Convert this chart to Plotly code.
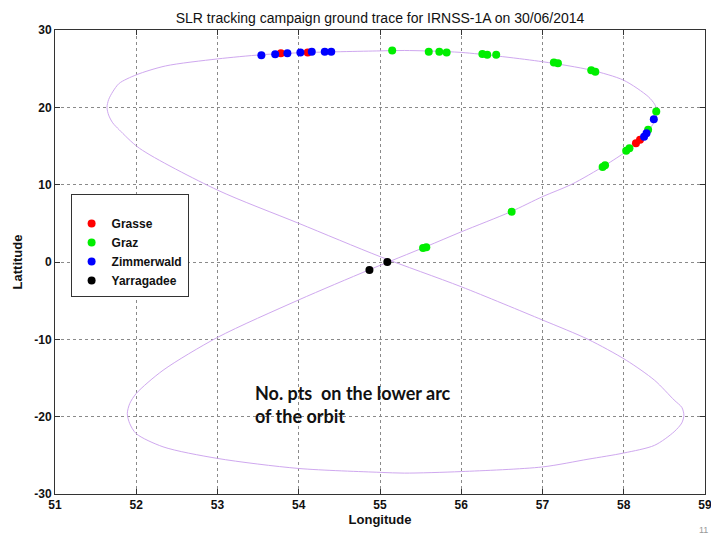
import plotly.graph_objects as go

# Ground trace of the orbit, closed figure-8
trace_lon = [55.57, 56.0, 56.61, 57.0, 57.36, 57.77, 58.03, 58.2, 58.34, 58.39, 58.41, 58.38, 58.3,
             58.0, 57.6, 57.0, 56.0, 55.3, 55.0, 54.0, 53.54, 53.0, 52.36, 52.0, 51.79, 51.71, 51.66,
             51.64, 51.66, 51.71, 51.79, 52.04, 53.0, 54.0, 55.0, 56.0, 57.0, 57.56, 58.03, 58.38,
             58.62, 58.715, 58.74, 58.715, 58.62, 58.38, 58.0, 57.56, 57.0, 56.0, 55.3, 55.0, 54.0,
             53.0, 52.33, 52.0, 51.92, 51.89, 51.92, 52.0, 52.33, 53.0, 54.0, 54.87, 55.57]
trace_lat = [2.0, 3.9, 6.5, 8.45, 10.05, 12.5, 14.3, 15.8, 17.5, 18.5, 19.5, 20.4, 21.4,
             23.5, 24.8, 25.9, 27.1, 27.35, 27.3, 27.05, 26.8, 26.26, 25.35, 24.2, 23.1, 22.0, 21.0,
             20.0, 19.0, 18.0, 17.1, 14.7, 9.3, 5.0, 0.7, -3.2, -7.5, -10.0, -12.7, -15.3,
             -17.85, -18.8, -19.8, -20.8, -21.95, -23.7, -24.7, -25.5, -26.5, -27.1, -27.3, -27.2, -26.7,
             -25.4, -23.9, -22.2, -20.9, -19.6, -18.3, -17.0, -14.0, -9.75, -4.9, -1.0, 2.0]

grasse_lon = [53.78, 54.11, 58.20, 58.15]
grasse_lat = [27.0, 27.08, 15.8, 15.35]

graz_lon = [55.15, 55.60, 55.73, 55.82, 56.26, 56.32, 56.43, 57.14, 57.19, 57.60, 57.65,
            58.40, 58.30, 58.07, 58.03, 57.77, 57.74, 56.62, 55.57, 55.53]
graz_lat = [27.34, 27.2, 27.2, 27.1, 26.9, 26.8, 26.8, 25.8, 25.7, 24.8, 24.6,
            19.45, 17.1, 14.7, 14.4, 12.5, 12.3, 6.5, 1.9, 1.8]

zimm_lon = [53.54, 53.71, 53.86, 54.02, 54.16, 54.32, 54.40, 58.37, 58.28, 58.25]
zimm_lat = [26.74, 26.87, 27.0, 27.08, 27.2, 27.2, 27.2, 18.45, 16.65, 16.2]

yarra_lon = [54.87, 55.09]
yarra_lat = [-1.03, 0.0]

x_ticks = [51, 52, 53, 54, 55, 56, 57, 58, 59]
y_ticks = [-30, -20, -10, 0, 10, 20, 30]

fig = go.Figure()
fig.add_trace(go.Scatter(x=trace_lon, y=trace_lat, mode="lines", line_shape="spline",
                         line=dict(color="#cfa8ef", width=1, smoothing=0.8),
                         showlegend=False, hoverinfo="skip"))
for name, lx, ly, col in [("Grasse", grasse_lon, grasse_lat, "#ff0000"),
                          ("Graz", graz_lon, graz_lat, "#00ee00"),
                          ("Zimmerwald", zimm_lon, zimm_lat, "#0000ff"),
                          ("Yarragadee", yarra_lon, yarra_lat, "#000000")]:
    fig.add_trace(go.Scatter(x=lx, y=ly, mode="markers", name=name,
                             marker=dict(color=col, size=8, line=dict(width=0))))

axis_common = dict(showline=True, linecolor="#333333", linewidth=1, mirror="ticks",
                   ticks="inside", ticklen=5, tickcolor="#333333", automargin=False,
                   ticklabeloverflow="allow",
                   showgrid=True, gridcolor="#8a8a8a", gridwidth=1, griddash="dot",
                   zeroline=False, tickfont=dict(family="Liberation Sans", size=12, color="#111111", weight="bold"))

fig.update_xaxes(range=[51, 59], tickvals=x_ticks, ticktext=[str(v) for v in x_ticks],
                 title=dict(text="Longitude", font=dict(family="Liberation Sans", size=13, color="#111111", weight="bold"),
                            standoff=3), **axis_common)
fig.update_yaxes(range=[-30, 30], tickvals=y_ticks, ticktext=[str(v) for v in y_ticks],
                 title=dict(text="Lattitude", font=dict(family="Liberation Sans", size=13, color="#111111", weight="bold"),
                            standoff=8), **axis_common)

fig.add_annotation(x=53.44, y=-18.4, xref="x", yref="y", xanchor="left", yanchor="middle",
                   text="No. pts  on the lower arc<br>of the orbit", showarrow=False, align="left",
                   font=dict(family="Lato", size=18, color="#111111", weight="bold"))
fig.add_annotation(x=0.997, y=-0.078, xref="paper", yref="paper", xanchor="center", yanchor="middle",
                   text="11", showarrow=False, font=dict(family="Liberation Sans", size=9, color="#999999"))

fig.update_layout(
    width=703, height=532,
    margin=dict(l=47, r=6, t=22, b=46),
    paper_bgcolor="white", plot_bgcolor="white",
    title=dict(text="SLR tracking campaign ground trace for IRNSS-1A on 30/06/2014",
               x=0.5, xref="paper", xanchor="center", y=0.981, yanchor="middle",
               font=dict(family="Liberation Sans", size=14, color="#111111")),
    legend=dict(x=0.024, y=0.647, xanchor="left", yanchor="top",
                bgcolor="white", bordercolor="#333333", borderwidth=1,
                title=dict(text=" ", font=dict(size=11)),
                font=dict(family="Liberation Sans", size=12, color="#111111", weight="bold"),
                itemwidth=30, tracegroupgap=2),
    showlegend=True,
)

fig.write_html("out.html")
